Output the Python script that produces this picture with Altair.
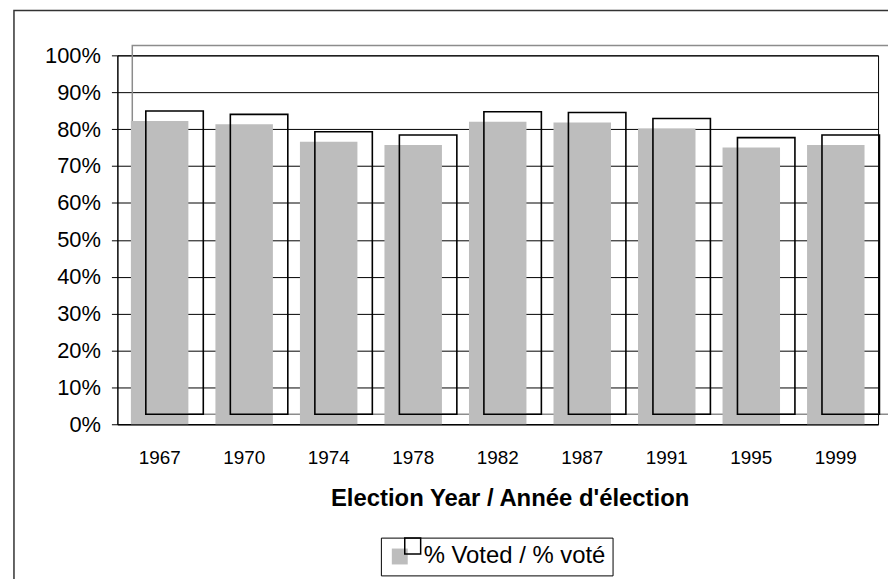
import altair as alt
import pandas as pd

years = ["1967", "1970", "1974", "1978", "1982", "1987", "1991", "1995", "1999"]
voted = [0.822, 0.813, 0.766, 0.757, 0.820, 0.818, 0.802, 0.750, 0.757]
series_label = "% Voted / % voté"
y_ticks = [0, 0.1, 0.2, 0.3, 0.4, 0.5, 0.6, 0.7, 0.8, 0.9, 1.0]

df = pd.DataFrame({"year": years, "voted": voted,
                   "series": [series_label] * len(years),
                   "ghost": [" "] * len(years)})
one = pd.DataFrame({"k": [0]})

FONT = "Liberation Sans"
W, H = 765, 371

xscale = alt.Scale(paddingInner=0.32, paddingOuter=0.16)
yscale = alt.Scale(domain=[0, 1])

x_axis = alt.Axis(title="Election Year / Année d'élection", labelAngle=0,
                  ticks=False, tickSize=0, labelPadding=24, domain=True,
                  domainColor="black", labelFont=FONT, labelFontSize=19,
                  labelColor="black", titleFont=FONT, titleFontSize=24,
                  titleFontWeight="bold", titleColor="black", titleY=63,
                  titleX=W / 2 + 12, grid=False)
y_axis = alt.Axis(title=None, values=y_ticks, tickCount=20, format=".0%", grid=True,
                  gridColor="black", gridWidth=1, gridOpacity=1,
                  domainColor="black", tickColor="black", tickSize=6,
                  labelFont=FONT, labelFontSize=22, labelColor="black",
                  labelPadding=11, labelOverlap=False)

outer = alt.Chart(one).mark_rect(fill="transparent", stroke="#333333", strokeWidth=1.5).encode(
    x=alt.value(-104), x2=alt.value(820), y=alt.value(-45), y2=alt.value(600))

ghost_frame = alt.Chart(one).mark_rect(fill="transparent", stroke="#8c8c8c", strokeWidth=1.5).encode(
    x=alt.value(15), x2=alt.value(W + 15), y=alt.value(-10), y2=alt.value(H - 10))

base = alt.Chart(df)

grey = base.mark_bar(strokeWidth=0).encode(
    x=alt.X("year:N", sort=years, scale=xscale, axis=x_axis),
    y=alt.Y("voted:Q", scale=yscale, axis=y_axis),
    color=alt.Color("series:N", scale=alt.Scale(domain=[series_label], range=["#bdbdbd"]),
                    legend=alt.Legend(title=None, orient="none", legendX=265, legendY=485,
                                      padding=7, strokeColor="black", fillColor="white",
                                      symbolType="square", symbolSize=256,
                                      symbolStrokeWidth=0, labelFont=FONT,
                                      labelFontSize=24, labelColor="black",
                                      labelOffset=12, labelLimit=600)),
)

white = base.mark_bar(filled=False, strokeWidth=1.6, xOffset=15, yOffset=-10, y2Offset=-10).encode(
    x=alt.X("year:N", sort=years, scale=xscale, axis=x_axis),
    y=alt.Y("voted:Q", scale=yscale, axis=y_axis),
    stroke=alt.Stroke("ghost:N", scale=alt.Scale(domain=[" "], range=["black"]),
                      legend=alt.Legend(title=None, orient="none", legendX=280, legendY=476.5,
                                        padding=8, symbolType="square", symbolSize=256,
                                        symbolStrokeWidth=1.5, symbolFillColor="transparent",
                                        labelFontSize=1, labelOpacity=0)),
)

chart = alt.layer(outer, ghost_frame, grey, white).properties(
    width=W, height=H,
    autosize=alt.AutoSizeParams(type="none"),
    padding={"left": 110, "top": 46, "right": 10, "bottom": 154},
    background="white",
).configure_view(stroke="black", strokeWidth=1)

chart.save("out.html", embed_options={"renderer": "svg", "actions": False})
